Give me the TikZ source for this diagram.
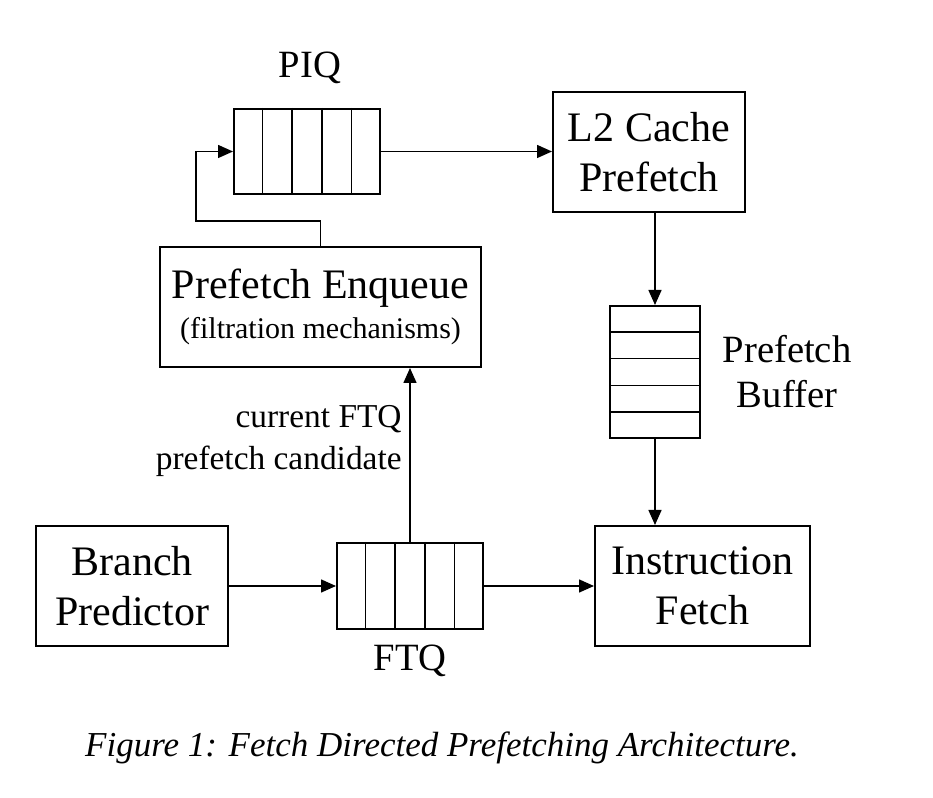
\documentclass[tikz,border=0pt]{standalone}
\usepackage{fontspec}
\setmainfont{Liberation Serif}
\usetikzlibrary{arrows.meta,positioning,calc}
\tikzset{
  block/.style={draw,line width=1pt,rectangle,minimum width=96pt,minimum height=60pt,align=center,inner sep=2pt,font=\fontsize{21}{25}\selectfont},
  queue/.style={draw,line width=1pt,rectangle,minimum width=73pt,minimum height=43pt,inner sep=0pt},
  cell/.style={line width=0.75pt},
  tag/.style={align=center,inner sep=0pt,font=\fontsize{19.3}{22.5}\selectfont},
  note/.style={align=right,inner sep=0pt,font=\fontsize{16.7}{21}\selectfont},
  flow/.style={-{Triangle[length=7.5pt,width=6.5pt]},line width=0.75pt}
}

\begin{document}
\begin{tikzpicture}[x=0.5pt,y=0.5pt]
\useasboundingbox (0,0) rectangle (933,798);

% bottom row
\node[block] (bp) at (132,212) {Branch\\Predictor};
\node[queue,right=53.5pt of bp] (ftq) {};
\node[block,minimum width=107.5pt,right=55pt of ftq] (ifetch) {Instruction\\Fetch};

% prefetch side
\node[block,minimum width=160.5pt,font=\fontsize{21}{20}\selectfont] (enq) at (320.5,491)
  {Prefetch Enqueue\\{\fontsize{15}{18}\selectfont (filtration mechanisms)}};
\node[queue,minimum height=42.5pt] (piq) at (307,646.5) {};
\node[block] (l2) at (649,646) {L2 Cache\\Prefetch};
\node[queue,minimum width=45pt,minimum height=66pt] (buf) at (655,426) {};

% queue slots
\foreach \q in {piq,ftq}
  \foreach \i in {1,...,4}
    \draw[cell] ($(\q.north west)!\i/5!(\q.north east)$) -- ($(\q.south west)!\i/5!(\q.south east)$);
\foreach \i in {1,...,4}
  \draw[cell] ($(buf.north west)!\i/5!(buf.south west)$) -- ($(buf.north east)!\i/5!(buf.south east)$);

% labels
\node[tag] (piqlbl) at (310,730) {PIQ};
\node[tag] (ftqlbl) at (410,137) {FTQ};
\node[tag] (buflbl) at (787,426) {Prefetch\\Buffer};
\node[note,anchor=east] (cand) at (402,357) {current FTQ\\prefetch candidate};

% connections
\draw[flow] (bp) -- (ftq);
\draw[flow] (ftq) -- (ifetch);
\draw[flow] (ftq.north) -- (ftq.north |- enq.south);
\coordinate (loop) at (196,577);
\draw[flow] (enq.north) |- (loop) |- (piq.west);
\draw[flow] (piq) -- (piq -| l2.west);
\draw[flow] (l2.south -| buf.north) -- (buf.north);
\draw[flow] (buf.south) -- (buf.south |- ifetch.north);

\node[font=\itshape\fontsize{17.5}{20}\selectfont] (caption) at (442,50)
  {Figure 1: Fetch Directed Prefetching Architecture.};
\end{tikzpicture}
\end{document}
